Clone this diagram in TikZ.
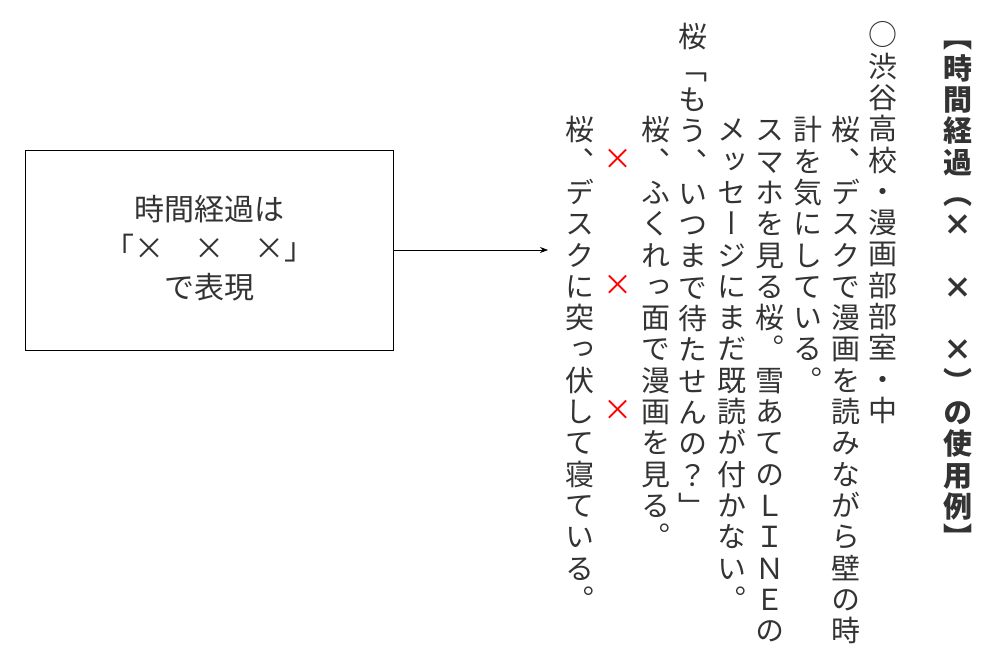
\documentclass[tikz,border=0pt]{standalone}
\usepackage{fontspec}
\newfontfamily\jp{Noto Sans CJK JP}
\newfontfamily\vjp[RawFeature=+vert]{Noto Sans CJK JP}
\usetikzlibrary{arrows.meta}
\definecolor{ink}{HTML}{333333}
\newcommand\vcolumn[4]{\def\vx{#1}\def\vy{#2}\def\vf{#3}\vstep#4\relax}
\def\vstep#1{\ifx#1\relax\else\node[vch] at (\vx,\vy) {\vf #1};\pgfmathsetmacro\vy{\vy+31.3}\expandafter\vstep\fi}
\begin{document}
\begin{tikzpicture}[x=1pt,y=-1pt,
  vch/.style={inner sep=0pt,text=ink,font=\fontsize{29}{29}\vjp,text height=0.88em,text depth=0.12em,anchor=center},
  box/.style={draw,line width=1pt,minimum width=368pt,minimum height=200pt,inner sep=0pt},
  lbl/.style={align=center,font=\fontsize{30}{39}\jp,text=ink}]
\useasboundingbox (0,0) rectangle (997,672);
\node[box] (b) at (209,250) {};
\node[lbl] (t) at (209,248) {時間経過は\\「×　×　×」\\で表現};
\coordinate (e) at (548,250);
\draw[-{Stealth[length=8pt,width=6pt]},line width=0.7pt] (b.east) -- (e);
\vcolumn{958}{44}{\bfseries}{【時間経過（×　×　×）の使用例】}
\vcolumn{883}{42}{}{○渋谷高校・漫画部部室・中}
\vcolumn{846}{137}{}{桜、デスクで漫画を読みながら壁の時}
\vcolumn{808}{137}{}{計を気にしている。}
\vcolumn{770}{137}{}{スマホを見る桜。雪あてのＬＩＮＥの}
\vcolumn{732}{137}{}{メッセージにまだ既読が付かない。}
\vcolumn{693}{44}{}{桜「もう、いつまで待たせんの？」}
\vcolumn{656}{137}{}{桜、ふくれっ面で漫画を見る。}
\vcolumn{618}{166}{\color{red}}{×　　　×　　　×}
\vcolumn{580}{137}{}{桜、デスクに突っ伏して寝ている。}
\end{tikzpicture}
\end{document}
